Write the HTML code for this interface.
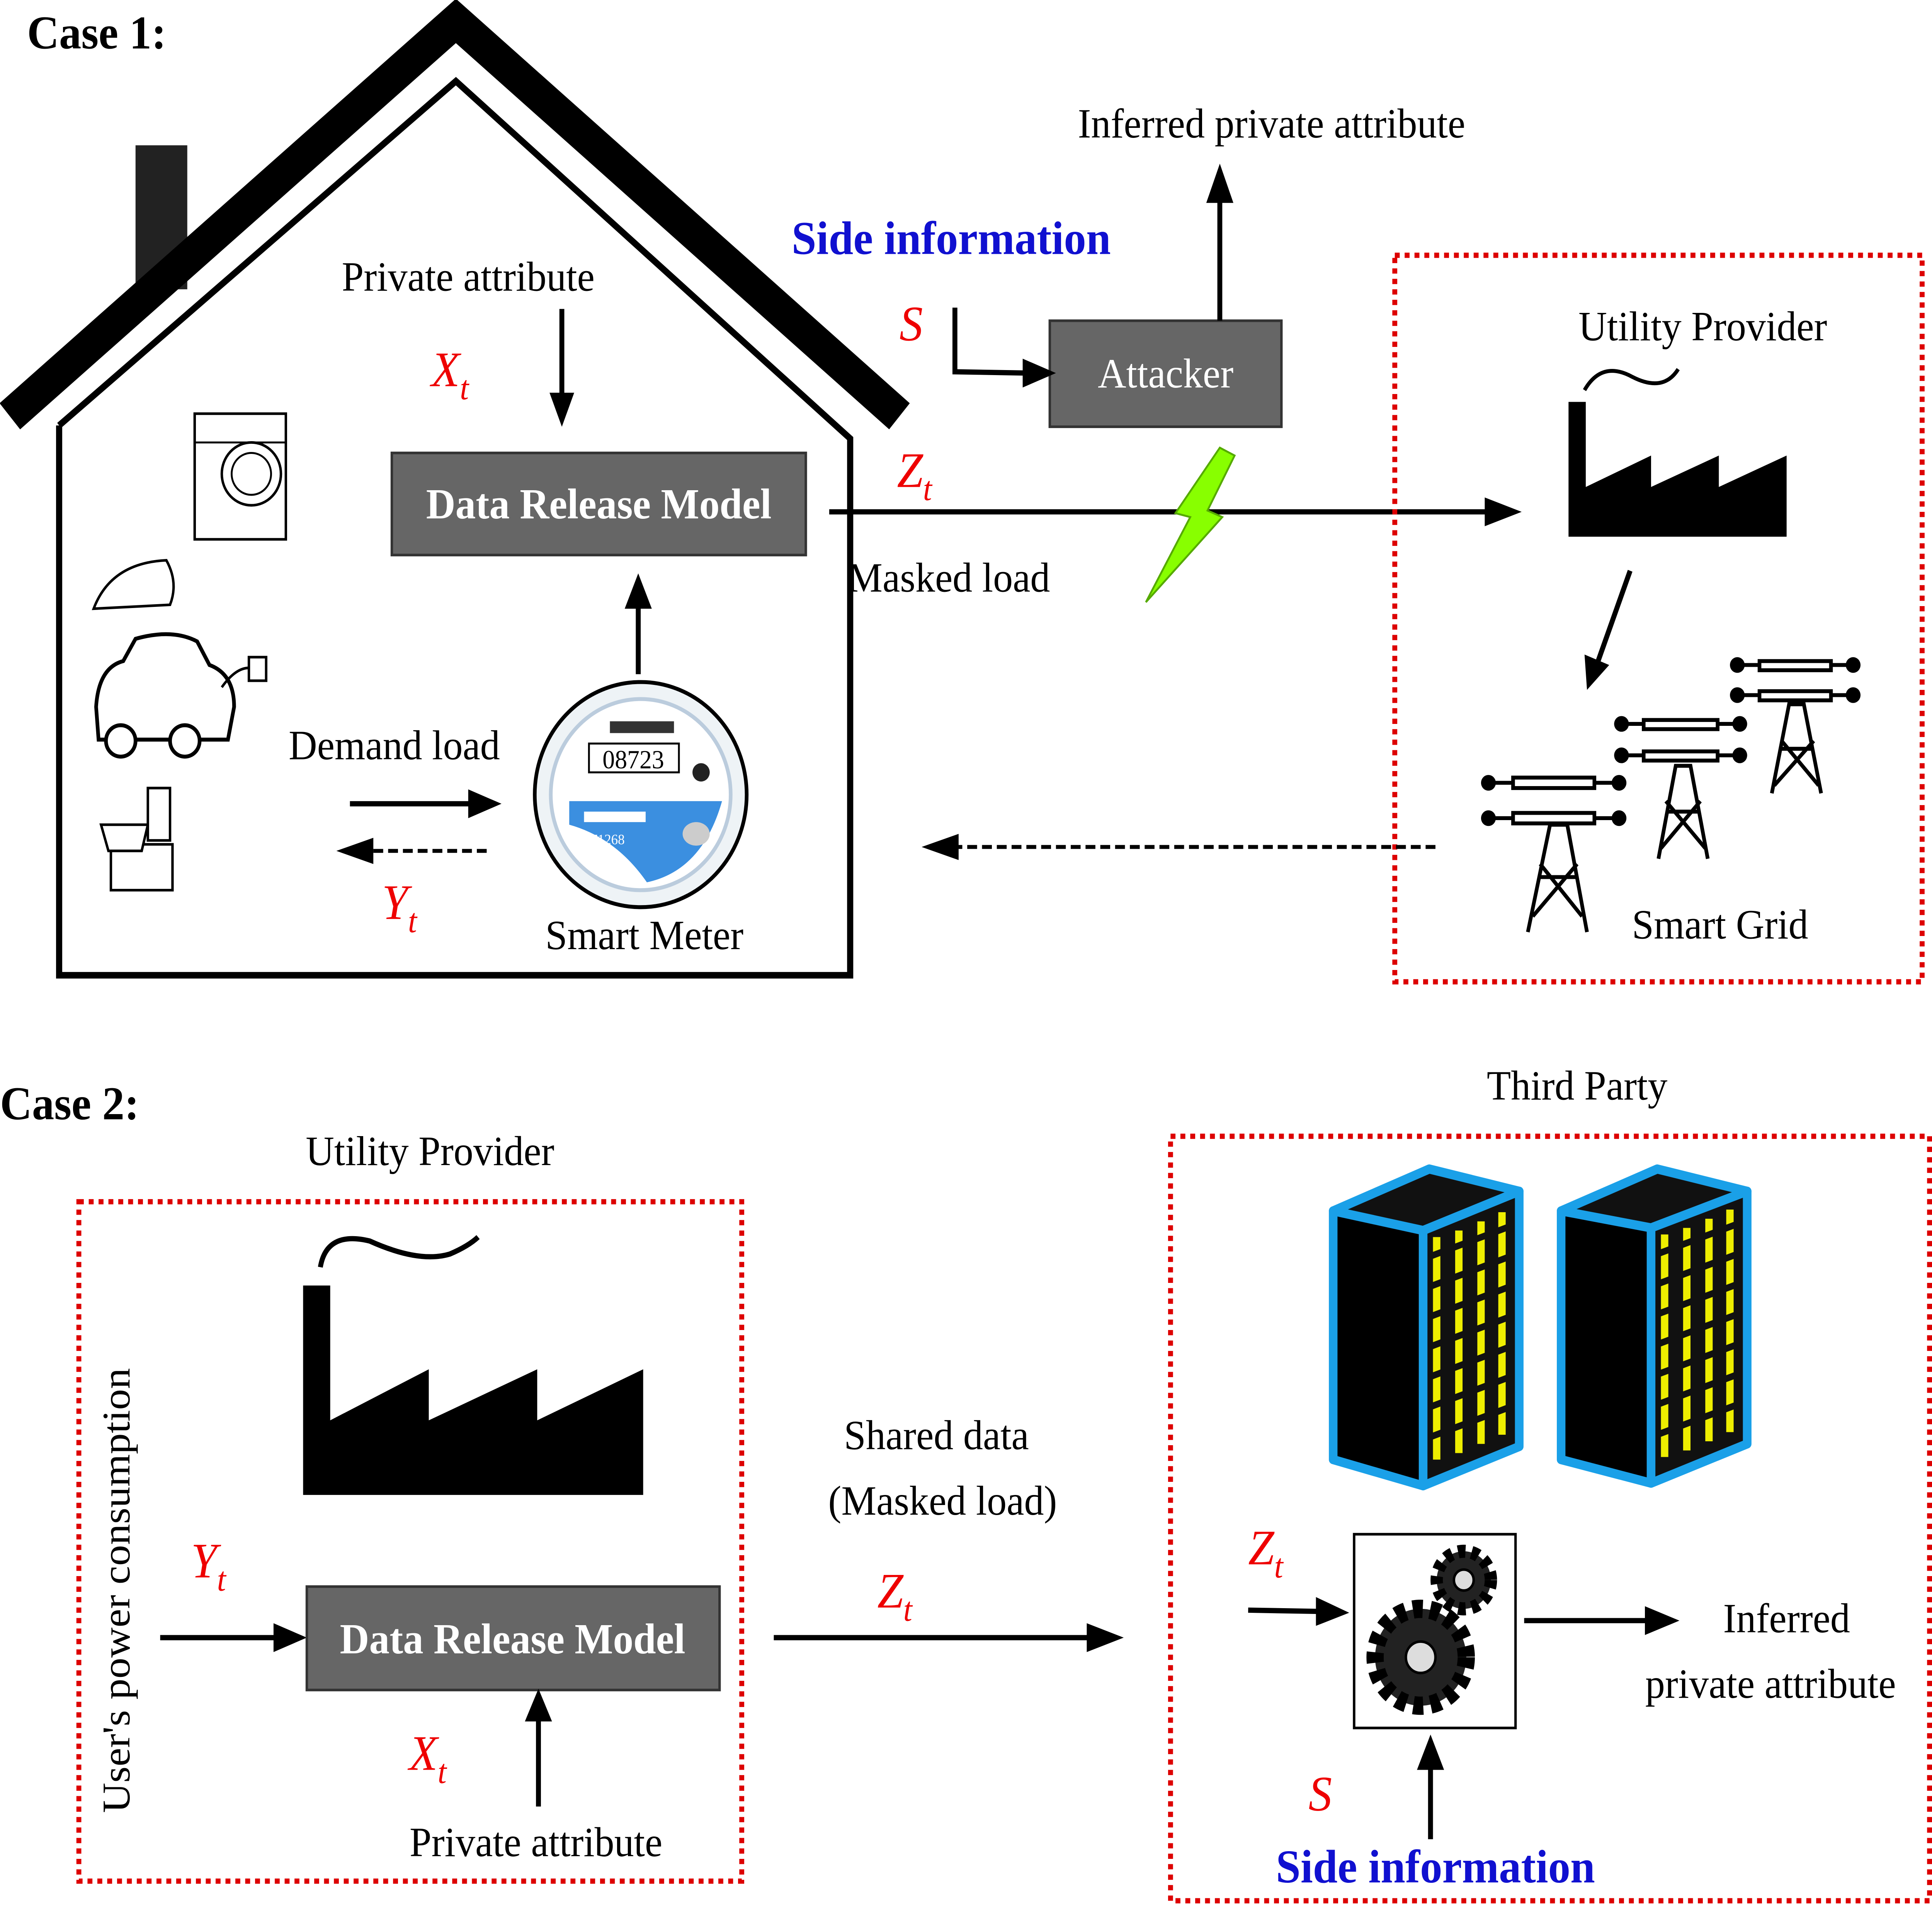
<!DOCTYPE html>
<html><head><meta charset="utf-8"><style>
html,body{margin:0;padding:0;background:#fff;overflow:hidden;width:100vw;height:100vh}
svg{display:block;width:100vw;height:100vh}
text{font-family:"Liberation Serif",serif}
</style></head><body>
<svg viewBox="0 0 1568 1456" preserveAspectRatio="none" xmlns="http://www.w3.org/2000/svg">
<rect width="1568" height="1456" fill="#fff"/>
<!-- Case 1 -->
<text x="22" y="37" font-size="36" font-weight="bold">Case 1:</text>
<rect x="110" y="111" width="42" height="110" fill="#222"/>
<polyline points="8,318 370,16 730,318" fill="none" stroke="#000" stroke-width="26"/>
<polyline points="48,325 370,62 690,335 690,745 48,745 48,325" fill="none" stroke="#000" stroke-width="5"/>
<text x="380" y="222" font-size="32" text-anchor="middle">Private attribute</text>
<line x1="456" y1="236" x2="456" y2="305" stroke="#000" stroke-width="4"/>
<polygon points="446,300 466,300 456,326" fill="#000"/>
<text x="350" y="295" font-size="38" fill="#e00" font-style="italic">X<tspan font-size="26" dy="10">t</tspan></text>
<rect x="318" y="346" width="336" height="78" fill="#666" stroke="#333" stroke-width="2"/>
<text x="486" y="396" font-size="33" font-weight="bold" fill="#fff" text-anchor="middle">Data Release Model</text>
<line x1="518" y1="515" x2="518" y2="460" stroke="#000" stroke-width="4"/>
<polygon points="507,465 529,465 518,438" fill="#000"/>
<!-- smart meter -->
<circle cx="520" cy="607" r="86" fill="#eef3f6" stroke="#000" stroke-width="3"/>
<circle cx="520" cy="607" r="73" fill="#fff" stroke="#bcd" stroke-width="3"/>
<path d="M462,612 L586,612 Q570,665 525,674 Q500,640 462,630 Z" fill="#3b8fe0"/>
<rect x="478" y="568" width="73" height="22" fill="#fff" stroke="#000" stroke-width="1.5"/>
<text x="514" y="587" font-size="20" text-anchor="middle">08723</text>
<rect x="495" y="551" width="52" height="9" fill="#333"/>
<circle cx="569" cy="590" r="7" fill="#222"/>
<rect x="474" y="620" width="50" height="8" fill="#fff"/>
<text x="474" y="645" font-size="11" fill="#fff">171268</text>
<ellipse cx="565" cy="637" rx="11" ry="9" fill="#ccc"/>
<text x="320" y="580" font-size="32" text-anchor="middle">Demand load</text>
<line x1="284" y1="614" x2="385" y2="614" stroke="#000" stroke-width="4"/>
<polygon points="380,603 380,625 407,614" fill="#000"/>
<line x1="395" y1="650" x2="300" y2="650" stroke="#000" stroke-width="3" stroke-dasharray="8,4"/>
<polygon points="303,640 303,660 273,650" fill="#000"/>
<text x="310" y="702" font-size="38" fill="#e00" font-style="italic">Y<tspan font-size="26" dy="10">t</tspan></text>
<text x="523" y="725" font-size="32" text-anchor="middle">Smart Meter</text>
<!-- appliances -->
<rect x="158" y="316" width="74" height="96" fill="#fff" stroke="#000" stroke-width="2"/>
<line x1="158" y1="338" x2="232" y2="338" stroke="#000" stroke-width="1.5"/>
<circle cx="204" cy="362" r="24" fill="#fff" stroke="#000" stroke-width="2"/>
<circle cx="204" cy="362" r="16" fill="none" stroke="#000" stroke-width="1.5"/>
<path d="M76,465 Q90,430 135,428 Q145,445 138,462 Z" fill="#fff" stroke="#000" stroke-width="2"/>
<path d="M78,540 Q80,510 100,505 L110,488 Q140,480 160,490 L170,508 Q190,515 190,540 L185,565 L80,565 Z" fill="#fff" stroke="#000" stroke-width="3"/>
<circle cx="98" cy="566" r="12" fill="#fff" stroke="#000" stroke-width="3"/>
<circle cx="150" cy="566" r="12" fill="#fff" stroke="#000" stroke-width="3"/>
<path d="M180,525 Q195,505 210,512" fill="none" stroke="#000" stroke-width="2"/>
<rect x="202" y="502" width="14" height="18" fill="#fff" stroke="#000" stroke-width="2"/>
<rect x="90" y="645" width="50" height="35" fill="#fff" stroke="#000" stroke-width="2"/>
<path d="M82,630 L120,630 L115,650 L88,650 Z" fill="#fff" stroke="#000" stroke-width="2"/>
<rect x="120" y="602" width="18" height="40" fill="#fff" stroke="#000" stroke-width="2"/>
<!-- Z_t, masked load -->
<text x="728" y="372" font-size="38" fill="#e00" font-style="italic">Z<tspan font-size="26" dy="10">t</tspan></text>
<line x1="673" y1="391" x2="1210" y2="391" stroke="#000" stroke-width="4"/>
<polygon points="1205,380 1205,402 1235,391" fill="#000"/>
<text x="770" y="452" font-size="32" text-anchor="middle">Masked load</text>
<polygon points="990,342 1002,348 980,390 992,395 930,460 966,395 954,392" fill="#8f0" stroke="#5a0" stroke-width="1.5"/>
<!-- attacker -->
<rect x="852" y="245" width="188" height="81" fill="#666" stroke="#333" stroke-width="2"/>
<text x="946" y="296" font-size="32" fill="#fff" text-anchor="middle">Attacker</text>
<line x1="990" y1="245" x2="990" y2="150" stroke="#000" stroke-width="4"/>
<polygon points="979,155 1001,155 990,125" fill="#000"/>
<text x="1032" y="105" font-size="32" text-anchor="middle">Inferred private attribute</text>
<text x="772" y="194" font-size="36" font-weight="bold" fill="#1010d0" text-anchor="middle">Side information</text>
<text x="730" y="260" font-size="38" fill="#e00" font-style="italic">S</text>
<polyline points="775,235 775,284 835,285" fill="none" stroke="#000" stroke-width="4"/>
<polygon points="830,274 830,296 857,285" fill="#000"/>
<!-- utility provider box -->
<rect x="1132" y="195" width="428" height="555" fill="none" stroke="#d00" stroke-width="4" stroke-dasharray="4,4"/>
<text x="1382" y="260" font-size="32" text-anchor="middle">Utility Provider</text>
<path d="M1286,298 Q1300,275 1325,288 Q1350,300 1362,282" fill="none" stroke="#000" stroke-width="3"/>
<polygon points="1273,307 1287,307 1287,372 1340,348 1340,372 1395,348 1395,372 1450,348 1450,410 1273,410" fill="#000"/>
<line x1="1323" y1="436" x2="1297" y2="505" stroke="#000" stroke-width="4"/>
<polygon points="1286,500 1306,508 1288,527" fill="#000"/>
<!-- towers -->
<g fill="none" stroke="#000" stroke-width="3">
<path d="M1240,712 L1258,630 L1272,630 L1288,712 M1250,670 L1280,670 M1244,700 L1280,660 M1284,700 L1250,660"/>
<rect x="1228" y="594" width="66" height="8"/><rect x="1228" y="621" width="66" height="8"/>
<line x1="1208" y1="598" x2="1228" y2="598"/><line x1="1294" y1="598" x2="1314" y2="598"/>
<line x1="1208" y1="625" x2="1228" y2="625"/><line x1="1294" y1="625" x2="1314" y2="625"/>
<path d="M1346,656 L1360,585 L1372,585 L1386,656 M1352,620 L1380,620 M1348,648 L1380,612 M1384,648 L1352,612"/>
<rect x="1334" y="550" width="60" height="7"/><rect x="1334" y="574" width="60" height="7"/>
<line x1="1316" y1="553" x2="1334" y2="553"/><line x1="1394" y1="553" x2="1412" y2="553"/>
<line x1="1316" y1="577" x2="1334" y2="577"/><line x1="1394" y1="577" x2="1412" y2="577"/>
<path d="M1438,606 L1452,538 L1464,538 L1478,606 M1444,572 L1472,572 M1440,600 L1472,566 M1476,600 L1446,566"/>
<rect x="1428" y="505" width="58" height="7"/><rect x="1428" y="528" width="58" height="7"/>
<line x1="1410" y1="508" x2="1428" y2="508"/><line x1="1486" y1="508" x2="1504" y2="508"/>
<line x1="1410" y1="531" x2="1428" y2="531"/><line x1="1486" y1="531" x2="1504" y2="531"/>
</g>
<g fill="#000">
<circle cx="1208" cy="598" r="6"/><circle cx="1314" cy="598" r="6"/><circle cx="1208" cy="625" r="6"/><circle cx="1314" cy="625" r="6"/>
<circle cx="1316" cy="553" r="6"/><circle cx="1412" cy="553" r="6"/><circle cx="1316" cy="577" r="6"/><circle cx="1412" cy="577" r="6"/>
<circle cx="1410" cy="508" r="6"/><circle cx="1504" cy="508" r="6"/><circle cx="1410" cy="531" r="6"/><circle cx="1504" cy="531" r="6"/>
</g>
<text x="1396" y="717" font-size="32" text-anchor="middle">Smart Grid</text>
<line x1="1165" y1="647" x2="775" y2="647" stroke="#000" stroke-width="3" stroke-dasharray="8,4"/>
<polygon points="778,637 778,657 748,647" fill="#000"/>
<!-- Case 2 -->
<text x="0" y="855" font-size="36" font-weight="bold">Case 2:</text>
<text x="349" y="890" font-size="32" text-anchor="middle">Utility Provider</text>
<rect x="64" y="918" width="538" height="519" fill="none" stroke="#d00" stroke-width="4" stroke-dasharray="4,4"/>
<path d="M260,968 Q265,940 300,948 Q340,965 365,958 Q380,952 388,945" fill="none" stroke="#000" stroke-width="4"/>
<polygon points="246,982 268,982 268,1085 348,1046 348,1085 436,1046 436,1085 522,1046 522,1142 246,1142" fill="#000"/>
<text transform="translate(105,1215) rotate(-90)" font-size="32" text-anchor="middle">User's power consumption</text>
<text x="155" y="1205" font-size="38" fill="#e00" font-style="italic">Y<tspan font-size="26" dy="10">t</tspan></text>
<line x1="130" y1="1251" x2="226" y2="1251" stroke="#000" stroke-width="4"/>
<polygon points="222,1240 222,1262 249,1251" fill="#000"/>
<rect x="249" y="1212" width="335" height="79" fill="#666" stroke="#333" stroke-width="2"/>
<text x="416" y="1263" font-size="33" font-weight="bold" fill="#fff" text-anchor="middle">Data Release Model</text>
<text x="332" y="1352" font-size="38" fill="#e00" font-style="italic">X<tspan font-size="26" dy="10">t</tspan></text>
<line x1="437" y1="1380" x2="437" y2="1310" stroke="#000" stroke-width="4"/>
<polygon points="426,1315 448,1315 437,1290" fill="#000"/>
<text x="435" y="1418" font-size="32" text-anchor="middle">Private attribute</text>
<text x="760" y="1107" font-size="32" text-anchor="middle">Shared data</text>
<text x="765" y="1157" font-size="32" text-anchor="middle">(Masked load)</text>
<text x="712" y="1228" font-size="38" fill="#e00" font-style="italic">Z<tspan font-size="26" dy="10">t</tspan></text>
<line x1="628" y1="1251" x2="885" y2="1251" stroke="#000" stroke-width="4"/>
<polygon points="882,1240 882,1262 912,1251" fill="#000"/>
<!-- third party -->
<text x="1280" y="840" font-size="32" text-anchor="middle">Third Party</text>
<rect x="950" y="868" width="616" height="584" fill="none" stroke="#d00" stroke-width="4" stroke-dasharray="4,4"/>
<g stroke="#1aa0e8" stroke-width="7" stroke-linejoin="round">
<polygon points="1082,925 1160,893 1233,910 1155,940" fill="#111"/>
<polygon points="1082,925 1155,940 1155,1135 1082,1115" fill="#000"/>
<polygon points="1155,940 1233,910 1233,1105 1155,1135" fill="#111"/>
<polygon points="1267,925 1345,893 1418,910 1340,938" fill="#111"/>
<polygon points="1267,925 1340,938 1340,1133 1267,1115" fill="#000"/>
<polygon points="1340,938 1418,910 1418,1103 1340,1133" fill="#111"/>
</g>
<g fill="#ee0">
<rect x="1163" y="945" width="6" height="170"/>
<rect x="1181" y="940" width="6" height="170"/>
<rect x="1199" y="933" width="6" height="170"/>
<rect x="1216" y="926" width="6" height="170"/>
<rect x="1348" y="943" width="6" height="170"/>
<rect x="1366" y="938" width="6" height="170"/>
<rect x="1384" y="931" width="6" height="170"/>
<rect x="1401" y="924" width="6" height="170"/>
</g>
<g stroke="#111" stroke-width="5">
<line x1="1160" y1="960" x2="1225" y2="937"/><line x1="1160" y1="983" x2="1225" y2="960"/><line x1="1160" y1="1006" x2="1225" y2="983"/><line x1="1160" y1="1029" x2="1225" y2="1006"/><line x1="1160" y1="1052" x2="1225" y2="1029"/><line x1="1160" y1="1075" x2="1225" y2="1052"/><line x1="1160" y1="1098" x2="1225" y2="1075"/>
<line x1="1345" y1="958" x2="1410" y2="935"/><line x1="1345" y1="981" x2="1410" y2="958"/><line x1="1345" y1="1004" x2="1410" y2="981"/><line x1="1345" y1="1027" x2="1410" y2="1004"/><line x1="1345" y1="1050" x2="1410" y2="1027"/><line x1="1345" y1="1073" x2="1410" y2="1050"/><line x1="1345" y1="1096" x2="1410" y2="1073"/>
</g>
<text x="1013" y="1195" font-size="38" fill="#e00" font-style="italic">Z<tspan font-size="26" dy="10">t</tspan></text>
<line x1="1013" y1="1230" x2="1072" y2="1231" stroke="#000" stroke-width="4"/>
<polygon points="1068,1220 1068,1242 1095,1232" fill="#000"/>
<rect x="1099" y="1172" width="131" height="148" fill="#fff" stroke="#000" stroke-width="2"/>
<circle cx="1153" cy="1266" r="37" fill="#222" stroke="#000" stroke-width="14" stroke-dasharray="8,6"/>
<circle cx="1153" cy="1266" r="30" fill="#222"/>
<circle cx="1153" cy="1266" r="12" fill="#ddd" stroke="#000" stroke-width="2"/>
<circle cx="1188" cy="1207" r="22" fill="#222" stroke="#000" stroke-width="10" stroke-dasharray="6,5"/>
<circle cx="1188" cy="1207" r="8" fill="#ddd" stroke="#000" stroke-width="2"/>
<line x1="1237" y1="1238" x2="1338" y2="1238" stroke="#000" stroke-width="4"/>
<polygon points="1335,1227 1335,1249 1363,1238" fill="#000"/>
<text x="1450" y="1247" font-size="32" text-anchor="middle">Inferred</text>
<text x="1437" y="1297" font-size="32" text-anchor="middle">private attribute</text>
<text x="1062" y="1383" font-size="38" fill="#e00" font-style="italic">S</text>
<line x1="1161" y1="1405" x2="1161" y2="1348" stroke="#000" stroke-width="4"/>
<polygon points="1150,1352 1172,1352 1161,1325" fill="#000"/>
<text x="1165" y="1438" font-size="36" font-weight="bold" fill="#1010d0" text-anchor="middle">Side information</text>
</svg>
</body></html>
